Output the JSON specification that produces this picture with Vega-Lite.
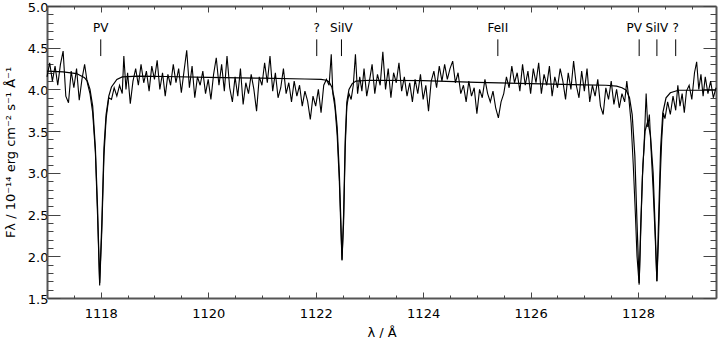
{
  "$schema": "https://vega.github.io/schema/vega-lite/v6.json",
  "width": 669,
  "height": 292,
  "autosize": {"type": "none"},
  "padding": {"left": 47, "top": 6, "right": 4, "bottom": 40},
  "background": "white",
  "config": {
    "view": {"stroke": null},
    "axis": {
      "grid": false,
      "domainColor": "#555",
      "domainWidth": 2,
      "tickColor": "#444",
      "tickWidth": 1,
      "labelFont": "DejaVu Sans",
      "titleFont": "DejaVu Sans",
      "labelFontSize": 13,
      "titleFontSize": 13,
      "labelColor": "#000",
      "titleColor": "#000",
      "titleFontWeight": "normal"
    }
  },
  "datasets": {
    "obs": [
      {"lam":1117.00,"f":4.15},{"lam":1117.05,"f":4.32},{"lam":1117.10,"f":4.10},{"lam":1117.15,"f":4.28},{"lam":1117.20,"f":4.05},{"lam":1117.25,"f":4.30},{"lam":1117.30,"f":4.46},{"lam":1117.35,"f":3.92},{"lam":1117.40,"f":3.84},{"lam":1117.45,"f":4.22},{"lam":1117.50,"f":4.02},{"lam":1117.55,"f":4.25},{"lam":1117.60,"f":3.87},{"lam":1117.65,"f":4.12},{"lam":1117.70,"f":4.30},{"lam":1117.75,"f":4.08},{"lam":1117.80,"f":3.95},{"lam":1117.85,"f":3.72},{"lam":1117.90,"f":3.25},{"lam":1117.94,"f":2.50},{"lam":1117.98,"f":1.65},{"lam":1118.02,"f":2.30},{"lam":1118.06,"f":3.20},{"lam":1118.10,"f":3.65},{"lam":1118.15,"f":3.90},{"lam":1118.20,"f":3.88},{"lam":1118.25,"f":4.02},{"lam":1118.30,"f":3.92},{"lam":1118.35,"f":4.05},{"lam":1118.40,"f":3.95},{"lam":1118.43,"f":4.40},{"lam":1118.47,"f":4.00},{"lam":1118.50,"f":4.20},{"lam":1118.55,"f":3.83},{"lam":1118.60,"f":4.10},{"lam":1118.65,"f":4.25},{"lam":1118.70,"f":4.05},{"lam":1118.75,"f":4.30},{"lam":1118.80,"f":4.08},{"lam":1118.85,"f":4.22},{"lam":1118.90,"f":3.98},{"lam":1118.95,"f":4.28},{"lam":1119.00,"f":4.12},{"lam":1119.05,"f":4.35},{"lam":1119.10,"f":4.00},{"lam":1119.15,"f":4.20},{"lam":1119.20,"f":3.92},{"lam":1119.25,"f":4.18},{"lam":1119.30,"f":4.05},{"lam":1119.35,"f":4.30},{"lam":1119.40,"f":4.08},{"lam":1119.45,"f":4.25},{"lam":1119.50,"f":3.96},{"lam":1119.55,"f":4.22},{"lam":1119.60,"f":4.47},{"lam":1119.65,"f":4.02},{"lam":1119.70,"f":4.28},{"lam":1119.75,"f":3.90},{"lam":1119.80,"f":4.15},{"lam":1119.85,"f":4.05},{"lam":1119.90,"f":4.22},{"lam":1119.95,"f":3.95},{"lam":1120.00,"f":4.12},{"lam":1120.05,"f":3.88},{"lam":1120.10,"f":4.18},{"lam":1120.15,"f":4.38},{"lam":1120.20,"f":4.05},{"lam":1120.25,"f":4.30},{"lam":1120.30,"f":3.98},{"lam":1120.35,"f":4.40},{"lam":1120.40,"f":4.02},{"lam":1120.45,"f":3.85},{"lam":1120.50,"f":4.15},{"lam":1120.55,"f":3.92},{"lam":1120.60,"f":4.25},{"lam":1120.65,"f":3.82},{"lam":1120.70,"f":4.08},{"lam":1120.75,"f":3.95},{"lam":1120.80,"f":4.18},{"lam":1120.85,"f":4.00},{"lam":1120.90,"f":3.74},{"lam":1120.95,"f":4.15},{"lam":1121.00,"f":4.05},{"lam":1121.05,"f":4.32},{"lam":1121.10,"f":4.08},{"lam":1121.15,"f":4.40},{"lam":1121.20,"f":3.98},{"lam":1121.25,"f":4.20},{"lam":1121.30,"f":3.90},{"lam":1121.35,"f":4.02},{"lam":1121.40,"f":4.25},{"lam":1121.45,"f":3.95},{"lam":1121.50,"f":4.08},{"lam":1121.55,"f":3.85},{"lam":1121.60,"f":4.10},{"lam":1121.65,"f":3.92},{"lam":1121.70,"f":4.05},{"lam":1121.75,"f":3.80},{"lam":1121.80,"f":3.98},{"lam":1121.85,"f":3.86},{"lam":1121.90,"f":3.64},{"lam":1121.95,"f":3.92},{"lam":1122.00,"f":3.80},{"lam":1122.05,"f":4.00},{"lam":1122.10,"f":3.72},{"lam":1122.15,"f":4.05},{"lam":1122.20,"f":4.12},{"lam":1122.25,"f":4.05},{"lam":1122.29,"f":4.42},{"lam":1122.32,"f":3.95},{"lam":1122.36,"f":3.78},{"lam":1122.40,"f":3.45},{"lam":1122.44,"f":2.90},{"lam":1122.47,"f":2.30},{"lam":1122.49,"f":1.95},{"lam":1122.52,"f":2.40},{"lam":1122.55,"f":3.30},{"lam":1122.58,"f":3.80},{"lam":1122.62,"f":3.95},{"lam":1122.66,"f":3.88},{"lam":1122.70,"f":4.05},{"lam":1122.74,"f":4.42},{"lam":1122.78,"f":3.95},{"lam":1122.82,"f":4.15},{"lam":1122.86,"f":3.98},{"lam":1122.90,"f":4.25},{"lam":1122.95,"f":3.92},{"lam":1123.00,"f":4.10},{"lam":1123.05,"f":4.30},{"lam":1123.10,"f":3.95},{"lam":1123.15,"f":4.18},{"lam":1123.20,"f":4.05},{"lam":1123.25,"f":4.45},{"lam":1123.30,"f":4.00},{"lam":1123.35,"f":4.25},{"lam":1123.40,"f":3.90},{"lam":1123.45,"f":4.20},{"lam":1123.50,"f":4.08},{"lam":1123.55,"f":4.32},{"lam":1123.60,"f":3.98},{"lam":1123.65,"f":4.15},{"lam":1123.70,"f":3.92},{"lam":1123.75,"f":4.08},{"lam":1123.80,"f":3.85},{"lam":1123.85,"f":4.12},{"lam":1123.90,"f":3.95},{"lam":1123.95,"f":4.18},{"lam":1124.00,"f":3.88},{"lam":1124.05,"f":4.05},{"lam":1124.10,"f":3.74},{"lam":1124.15,"f":4.10},{"lam":1124.20,"f":4.22},{"lam":1124.25,"f":4.02},{"lam":1124.30,"f":4.28},{"lam":1124.35,"f":4.10},{"lam":1124.40,"f":4.30},{"lam":1124.45,"f":4.12},{"lam":1124.50,"f":4.25},{"lam":1124.55,"f":4.34},{"lam":1124.60,"f":4.08},{"lam":1124.65,"f":4.20},{"lam":1124.70,"f":3.95},{"lam":1124.75,"f":4.05},{"lam":1124.80,"f":3.85},{"lam":1124.85,"f":4.10},{"lam":1124.90,"f":3.92},{"lam":1124.95,"f":4.02},{"lam":1125.00,"f":3.71},{"lam":1125.05,"f":4.00},{"lam":1125.10,"f":3.90},{"lam":1125.15,"f":4.12},{"lam":1125.20,"f":3.95},{"lam":1125.25,"f":3.85},{"lam":1125.30,"f":3.98},{"lam":1125.35,"f":3.78},{"lam":1125.40,"f":3.66},{"lam":1125.45,"f":3.85},{"lam":1125.50,"f":3.95},{"lam":1125.55,"f":4.15},{"lam":1125.60,"f":4.02},{"lam":1125.65,"f":4.28},{"lam":1125.70,"f":4.08},{"lam":1125.75,"f":4.20},{"lam":1125.80,"f":3.98},{"lam":1125.85,"f":4.30},{"lam":1125.90,"f":4.05},{"lam":1125.95,"f":4.22},{"lam":1126.00,"f":3.95},{"lam":1126.05,"f":4.25},{"lam":1126.10,"f":4.08},{"lam":1126.15,"f":4.32},{"lam":1126.20,"f":3.95},{"lam":1126.25,"f":4.18},{"lam":1126.30,"f":4.05},{"lam":1126.35,"f":4.28},{"lam":1126.40,"f":3.92},{"lam":1126.45,"f":4.15},{"lam":1126.50,"f":4.02},{"lam":1126.55,"f":4.25},{"lam":1126.60,"f":4.10},{"lam":1126.65,"f":3.88},{"lam":1126.70,"f":4.20},{"lam":1126.75,"f":4.00},{"lam":1126.80,"f":4.34},{"lam":1126.85,"f":4.05},{"lam":1126.90,"f":3.90},{"lam":1126.95,"f":4.22},{"lam":1127.00,"f":3.98},{"lam":1127.05,"f":4.25},{"lam":1127.10,"f":3.85},{"lam":1127.15,"f":4.05},{"lam":1127.20,"f":3.92},{"lam":1127.25,"f":4.12},{"lam":1127.30,"f":3.80},{"lam":1127.35,"f":3.70},{"lam":1127.40,"f":4.02},{"lam":1127.45,"f":3.88},{"lam":1127.50,"f":4.10},{"lam":1127.55,"f":3.82},{"lam":1127.60,"f":4.00},{"lam":1127.65,"f":3.78},{"lam":1127.70,"f":3.95},{"lam":1127.75,"f":3.85},{"lam":1127.79,"f":4.10},{"lam":1127.83,"f":3.88},{"lam":1127.87,"f":3.60},{"lam":1127.91,"f":3.10},{"lam":1127.95,"f":2.50},{"lam":1127.98,"f":2.00},{"lam":1128.02,"f":1.66},{"lam":1128.05,"f":2.30},{"lam":1128.08,"f":2.95},{"lam":1128.11,"f":3.30},{"lam":1128.15,"f":3.95},{"lam":1128.18,"f":3.55},{"lam":1128.21,"f":3.70},{"lam":1128.24,"f":3.30},{"lam":1128.28,"f":2.80},{"lam":1128.32,"f":2.20},{"lam":1128.35,"f":1.70},{"lam":1128.38,"f":2.20},{"lam":1128.41,"f":2.90},{"lam":1128.44,"f":3.40},{"lam":1128.47,"f":3.72},{"lam":1128.50,"f":3.65},{"lam":1128.55,"f":3.85},{"lam":1128.60,"f":3.70},{"lam":1128.65,"f":3.92},{"lam":1128.70,"f":3.75},{"lam":1128.74,"f":4.05},{"lam":1128.78,"f":3.80},{"lam":1128.82,"f":3.95},{"lam":1128.86,"f":3.72},{"lam":1128.90,"f":3.98},{"lam":1128.95,"f":4.05},{"lam":1129.00,"f":3.88},{"lam":1129.05,"f":4.20},{"lam":1129.09,"f":4.33},{"lam":1129.13,"f":4.00},{"lam":1129.17,"f":4.18},{"lam":1129.21,"f":3.92},{"lam":1129.25,"f":4.15},{"lam":1129.30,"f":3.95},{"lam":1129.35,"f":4.10},{"lam":1129.40,"f":3.90},{"lam":1129.45,"f":4.02}
    ],
    "model": [
      {"lam":1117.00,"f":4.22},{"lam":1117.30,"f":4.21},{"lam":1117.55,"f":4.19},{"lam":1117.70,"f":4.14},{"lam":1117.75,"f":4.10},{"lam":1117.80,"f":4.00},{"lam":1117.85,"f":3.80},{"lam":1117.90,"f":3.30},{"lam":1117.94,"f":2.60},{"lam":1117.98,"f":1.68},{"lam":1118.02,"f":2.40},{"lam":1118.06,"f":3.30},{"lam":1118.10,"f":3.70},{"lam":1118.15,"f":3.92},{"lam":1118.20,"f":4.03},{"lam":1118.30,"f":4.12},{"lam":1118.40,"f":4.15},{"lam":1118.70,"f":4.16},{"lam":1119.20,"f":4.155},{"lam":1120.00,"f":4.145},{"lam":1121.00,"f":4.135},{"lam":1121.80,"f":4.125},{"lam":1122.10,"f":4.12},{"lam":1122.20,"f":4.11},{"lam":1122.25,"f":4.09},{"lam":1122.30,"f":4.03},{"lam":1122.35,"f":3.88},{"lam":1122.40,"f":3.55},{"lam":1122.44,"f":3.00},{"lam":1122.47,"f":2.40},{"lam":1122.49,"f":1.96},{"lam":1122.52,"f":2.50},{"lam":1122.55,"f":3.40},{"lam":1122.58,"f":3.85},{"lam":1122.62,"f":4.00},{"lam":1122.68,"f":4.07},{"lam":1122.75,"f":4.10},{"lam":1123.00,"f":4.11},{"lam":1124.00,"f":4.105},{"lam":1125.00,"f":4.085},{"lam":1126.00,"f":4.07},{"lam":1127.00,"f":4.055},{"lam":1127.40,"f":4.05},{"lam":1127.60,"f":4.04},{"lam":1127.70,"f":4.02},{"lam":1127.78,"f":3.99},{"lam":1127.84,"f":3.90},{"lam":1127.89,"f":3.70},{"lam":1127.94,"f":3.20},{"lam":1127.98,"f":2.40},{"lam":1128.02,"f":1.68},{"lam":1128.05,"f":2.40},{"lam":1128.09,"f":3.10},{"lam":1128.13,"f":3.50},{"lam":1128.18,"f":3.62},{"lam":1128.23,"f":3.45},{"lam":1128.28,"f":3.00},{"lam":1128.32,"f":2.30},{"lam":1128.35,"f":1.70},{"lam":1128.38,"f":2.40},{"lam":1128.42,"f":3.30},{"lam":1128.46,"f":3.72},{"lam":1128.52,"f":3.90},{"lam":1128.60,"f":3.96},{"lam":1128.75,"f":3.99},{"lam":1129.45,"f":3.99}
    ],
    "lines": [
      {"lam":1118.00,"lab":"PV","shift":"no"},{"lam":1122.02,"lab":"?","shift":"no"},{"lam":1122.48,"lab":"SiIV","shift":"no"},{"lam":1125.39,"lab":"FeII","shift":"no"},{"lam":1128.02,"lab":"PV","shift":"yes"},{"lam":1128.35,"lab":"SiIV","shift":"no"},{"lam":1128.70,"lab":"?","shift":"no"}
    ]
  },
  "layer": [
    {
      "data": {"name": "obs"},
      "mark": {"type": "line", "color": "#000", "strokeWidth": 1.1},
      "encoding": {
        "x": {"field": "lam", "type": "quantitative",
          "scale": {"domain": [1117, 1129.45], "nice": false, "zero": false},
          "axis": {"orient": "bottom", "values": [1118, 1120, 1122, 1124, 1126, 1128], "format": "d", "tickSize": -6, "labelPadding": 15, "title": "λ / Å", "titlePadding": 6}},
        "y": {"field": "f", "type": "quantitative",
          "scale": {"domain": [1.5, 5.0], "nice": false, "zero": false},
          "axis": {"orient": "left", "values": [1.5, 2.0, 2.5, 3.0, 3.5, 4.0, 4.5, 5.0], "format": ".1f", "tickSize": -13, "labelPadding": 12, "labelOffset": 1, "title": "Fλ / 10⁻¹⁴ erg cm⁻² s⁻¹ Å⁻¹", "titlePadding": 10}}
      }
    },
    {
      "data": {"name": "model"},
      "mark": {"type": "line", "color": "#000", "strokeWidth": 1.2},
      "encoding": {
        "x": {"field": "lam", "type": "quantitative",
          "scale": {"domain": [1117, 1129.45], "nice": false, "zero": false},
          "axis": {"orient": "bottom", "values": [1117.5, 1118.5, 1119, 1119.5, 1120.5, 1121, 1121.5, 1122.5, 1123, 1123.5, 1124.5, 1125, 1125.5, 1126.5, 1127, 1127.5, 1128.5, 1129], "tickSize": -3, "labels": false, "domain": false, "title": null}},
        "y": {"field": "f", "type": "quantitative",
          "scale": {"domain": [1.5, 5.0], "nice": false, "zero": false},
          "axis": {"orient": "left", "values": [1.6, 1.7, 1.8, 1.9, 2.1, 2.2, 2.3, 2.4, 2.6, 2.7, 2.8, 2.9, 3.1, 3.2, 3.3, 3.4, 3.6, 3.7, 3.8, 3.9, 4.1, 4.2, 4.3, 4.4, 4.6, 4.7, 4.8, 4.9], "tickSize": -6, "labels": false, "domain": false, "title": null}}
      }
    },
    {
      "data": {"name": "lines"},
      "mark": {"type": "rule", "color": "#000", "strokeWidth": 1},
      "encoding": {
        "x": {"field": "lam", "type": "quantitative",
          "scale": {"domain": [1117, 1129.45], "nice": false, "zero": false},
          "axis": {"orient": "top", "values": [1118, 1120, 1122, 1124, 1126, 1128], "tickSize": -6, "labels": false, "title": null}},
        "y": {"datum": 4.40, "type": "quantitative",
          "scale": {"domain": [1.5, 5.0], "nice": false, "zero": false},
          "axis": {"orient": "right", "values": [1.5, 2.0, 2.5, 3.0, 3.5, 4.0, 4.5, 5.0], "tickSize": -13, "labels": false, "title": null}},
        "y2": {"datum": 4.60}
      }
    },
    {
      "data": {"name": "lines"},
      "transform": [{"filter": "datum.shift == 'no'"}],
      "mark": {"type": "text", "color": "#000", "font": "DejaVu Sans", "fontSize": 12, "baseline": "middle", "align": "center"},
      "encoding": {
        "x": {"field": "lam", "type": "quantitative",
          "scale": {"domain": [1117, 1129.45], "nice": false, "zero": false},
          "axis": {"orient": "top", "values": [1117.5, 1118.5, 1119, 1119.5, 1120.5, 1121, 1121.5, 1122.5, 1123, 1123.5, 1124.5, 1125, 1125.5, 1126.5, 1127, 1127.5, 1128.5, 1129], "tickSize": -3, "labels": false, "domain": false, "title": null}},
        "y": {"datum": 4.74, "type": "quantitative",
          "scale": {"domain": [1.5, 5.0], "nice": false, "zero": false},
          "axis": {"orient": "right", "values": [1.6, 1.7, 1.8, 1.9, 2.1, 2.2, 2.3, 2.4, 2.6, 2.7, 2.8, 2.9, 3.1, 3.2, 3.3, 3.4, 3.6, 3.7, 3.8, 3.9, 4.1, 4.2, 4.3, 4.4, 4.6, 4.7, 4.8, 4.9], "tickSize": -6, "labels": false, "domain": false, "title": null}},
        "text": {"field": "lab", "type": "nominal"}
      }
    },
    {
      "data": {"name": "lines"},
      "transform": [{"filter": "datum.shift == 'yes'"}],
      "mark": {"type": "text", "color": "#000", "font": "DejaVu Sans", "fontSize": 12, "baseline": "middle", "align": "center", "dx": -5},
      "encoding": {
        "x": {"field": "lam", "type": "quantitative",
          "scale": {"domain": [1117, 1129.45], "nice": false, "zero": false},
          "axis": null},
        "y": {"datum": 4.74, "type": "quantitative",
          "scale": {"domain": [1.5, 5.0], "nice": false, "zero": false},
          "axis": null},
        "text": {"field": "lab", "type": "nominal"}
      }
    }
  ],
  "resolve": {"axis": {"x": "independent", "y": "independent"}}
}
